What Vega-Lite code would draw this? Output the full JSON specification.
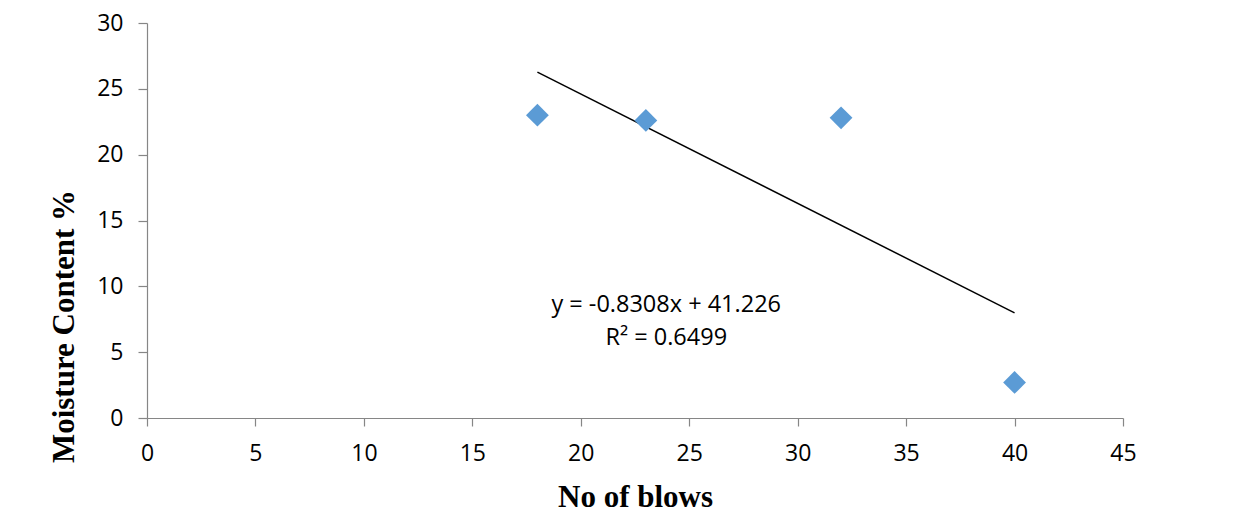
{
  "$schema": "https://vega.github.io/schema/vega-lite/v6.json",
  "width": 976,
  "height": 395,
  "autosize": {"type": "none"},
  "padding": {"left": 147, "top": 23, "right": 115, "bottom": 99},
  "background": "white",
  "config": {
    "view": {"stroke": null},
    "font": "Open Sans"
  },
  "datasets": {
    "points": [
      {"blows": 18, "moisture": 23.0},
      {"blows": 23, "moisture": 22.6},
      {"blows": 32, "moisture": 22.8},
      {"blows": 40, "moisture": 2.7}
    ],
    "trend": [
      {"blows": 18, "moisture": 26.27},
      {"blows": 40, "moisture": 7.99}
    ]
  },
  "layer": [
    {
      "data": {"name": "trend"},
      "mark": {"type": "line", "color": "black", "strokeWidth": 1.5},
      "encoding": {
        "x": {
          "field": "blows", "type": "quantitative",
          "scale": {"domain": [0, 45], "nice": false, "zero": false},
          "axis": {
            "title": "No of blows",
            "titleFont": "Liberation Serif", "titleFontWeight": "bold", "titleFontSize": 31, "titleColor": "black",
            "titleBaseline": "alphabetic", "titleY": 88, "titleX": 488, "titleAlign": "center",
            "values": [0, 5, 10, 15, 20, 25, 30, 35, 40, 45],
            "grid": false,
            "domainColor": "#868686", "tickColor": "#868686", "tickSize": 8, "domainWidth": 1.2, "tickWidth": 1.2,
            "labelFont": "Open Sans", "labelFontSize": 23, "labelColor": "black", "labelPadding": 16, "labelFlush": false
          }
        },
        "y": {
          "field": "moisture", "type": "quantitative",
          "scale": {"domain": [0, 30], "nice": false, "zero": false},
          "axis": {
            "title": "Moisture Content %",
            "titleFont": "Liberation Serif", "titleFontWeight": "bold", "titleFontSize": 31, "titleColor": "black",
            "titleAngle": -90, "titleBaseline": "alphabetic", "titleAlign": "center", "titleX": -74, "titleY": 303,
            "values": [0, 5, 10, 15, 20, 25, 30],
            "grid": false,
            "domainColor": "#868686", "tickColor": "#868686", "tickSize": 9, "domainWidth": 1.2, "tickWidth": 1.2,
            "labelFont": "Open Sans", "labelFontSize": 23, "labelColor": "black", "labelPadding": 15, "labelFlush": false
          }
        }
      }
    },
    {
      "data": {"name": "points"},
      "mark": {"type": "point", "shape": "diamond", "filled": true, "color": "#5B9BD5", "opacity": 1, "size": 520},
      "encoding": {
        "x": {"field": "blows", "type": "quantitative"},
        "y": {"field": "moisture", "type": "quantitative"}
      }
    },
    {
      "data": {"values": [{"label": "y = -0.8308x + 41.226\nR² = 0.6499"}]},
      "mark": {"type": "text", "font": "Open Sans", "fontSize": 23.5, "color": "black", "align": "center", "baseline": "alphabetic", "lineBreak": "\n", "lineHeight": 33},
      "encoding": {
        "x": {"datum": 23.94, "type": "quantitative"},
        "y": {"datum": 8.02, "type": "quantitative"},
        "text": {"field": "label"}
      }
    }
  ]
}
